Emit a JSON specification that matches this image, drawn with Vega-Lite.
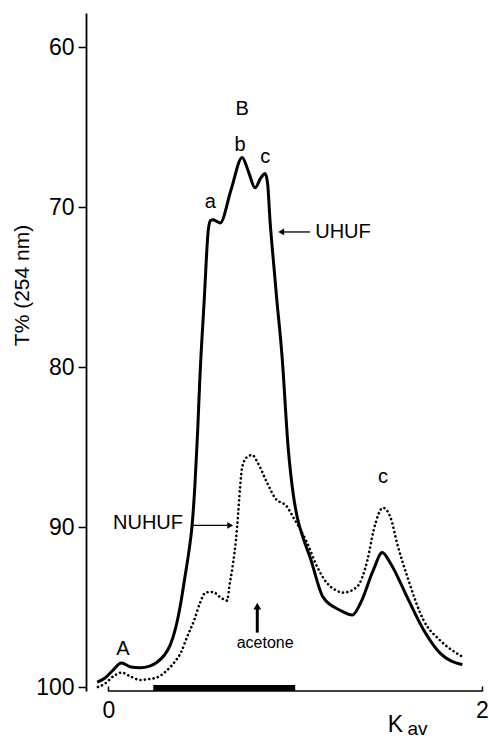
{
  "$schema": "https://vega.github.io/schema/vega-lite/v6.json",
  "width": 396,
  "height": 678,
  "autosize": {"type": "none"},
  "padding": {"left": 86, "top": 13, "right": 7, "bottom": 49},
  "background": "white",
  "config": {
    "view": {"stroke": null},
    "font": "Liberation Sans",
    "axis": {"domainColor": "black", "tickColor": "black", "labelColor": "black", "titleColor": "black", "grid": false}
  },
  "datasets": {
    "uhuf": [
      {"x": -0.06, "y": 99.69}, {"x": -0.02, "y": 99.45}, {"x": 0.02, "y": 99.0}, {"x": 0.07, "y": 98.5},
      {"x": 0.12, "y": 98.75}, {"x": 0.17, "y": 98.8}, {"x": 0.22, "y": 98.7}, {"x": 0.26, "y": 98.45},
      {"x": 0.30, "y": 98.0}, {"x": 0.33, "y": 97.4}, {"x": 0.36, "y": 96.3}, {"x": 0.385, "y": 94.9},
      {"x": 0.41, "y": 93.1}, {"x": 0.43, "y": 91.6}, {"x": 0.448, "y": 89.9}, {"x": 0.463, "y": 87.4},
      {"x": 0.477, "y": 84.2}, {"x": 0.49, "y": 80.6},
      {"x": 0.513, "y": 75.8}, {"x": 0.535, "y": 71.4}, {"x": 0.547, "y": 70.85}, {"x": 0.56, "y": 70.8},
      {"x": 0.58, "y": 70.9}, {"x": 0.598, "y": 71.0}, {"x": 0.657, "y": 68.9}, {"x": 0.716, "y": 66.9},
      {"x": 0.75, "y": 67.8}, {"x": 0.785, "y": 68.8}, {"x": 0.815, "y": 68.2}, {"x": 0.839, "y": 67.9},
      {"x": 0.852, "y": 68.5}, {"x": 0.866, "y": 71.0}, {"x": 0.882, "y": 73.2}, {"x": 0.90, "y": 75.6},
      {"x": 0.93, "y": 79.4}, {"x": 0.962, "y": 85.0}, {"x": 0.99, "y": 88.0}, {"x": 1.011, "y": 89.4}, {"x": 1.043, "y": 90.7},
      {"x": 1.08, "y": 91.9}, {"x": 1.15, "y": 94.4}, {"x": 1.24, "y": 95.2}, {"x": 1.306, "y": 95.5},
      {"x": 1.35, "y": 94.75}, {"x": 1.418, "y": 92.7}, {"x": 1.466, "y": 91.6}, {"x": 1.509, "y": 92.25},
      {"x": 1.60, "y": 94.4}, {"x": 1.686, "y": 96.4}, {"x": 1.777, "y": 97.9}, {"x": 1.895, "y": 98.6}
    ],
    "nuhuf": [
      {"x": -0.056, "y": 100.0}, {"x": -0.02, "y": 99.8}, {"x": 0.03, "y": 99.3}, {"x": 0.07, "y": 99.1},
      {"x": 0.12, "y": 99.35}, {"x": 0.17, "y": 99.56}, {"x": 0.22, "y": 99.5}, {"x": 0.26, "y": 99.4},
      {"x": 0.31, "y": 99.0}, {"x": 0.35, "y": 98.5}, {"x": 0.39, "y": 97.8}, {"x": 0.42, "y": 96.9},
      {"x": 0.46, "y": 95.8}, {"x": 0.49, "y": 94.75}, {"x": 0.52, "y": 94.1}, {"x": 0.56, "y": 94.06},
      {"x": 0.60, "y": 94.4}, {"x": 0.635, "y": 94.6}, {"x": 0.65, "y": 93.5}, {"x": 0.662, "y": 92.7},
      {"x": 0.689, "y": 90.0}, {"x": 0.705, "y": 87.5}, {"x": 0.716, "y": 86.25}, {"x": 0.745, "y": 85.6},
      {"x": 0.77, "y": 85.5}, {"x": 0.80, "y": 86.0}, {"x": 0.85, "y": 87.25}, {"x": 0.90, "y": 88.3},
      {"x": 0.93, "y": 88.5}, {"x": 0.946, "y": 88.6}, {"x": 0.99, "y": 89.4}, {"x": 1.064, "y": 91.0},
      {"x": 1.118, "y": 92.5}, {"x": 1.17, "y": 93.5}, {"x": 1.21, "y": 93.9}, {"x": 1.257, "y": 94.1},
      {"x": 1.33, "y": 93.75}, {"x": 1.386, "y": 92.1}, {"x": 1.42, "y": 90.2}, {"x": 1.47, "y": 88.8},
      {"x": 1.51, "y": 89.4}, {"x": 1.545, "y": 91.0}, {"x": 1.60, "y": 93.1}, {"x": 1.686, "y": 95.8},
      {"x": 1.777, "y": 97.1}, {"x": 1.895, "y": 98.1}
    ],
    "letters": [
      {"x": 0.078, "y": 97.6, "text": "A"},
      {"x": 0.545, "y": 69.7, "text": "a"},
      {"x": 0.705, "y": 66.1, "text": "b"},
      {"x": 0.716, "y": 63.9, "text": "B"},
      {"x": 0.839, "y": 66.9, "text": "c"},
      {"x": 1.47, "y": 86.9, "text": "c"}
    ],
    "nuhufLabel": [{"x": 0.212, "y": 89.75, "text": "NUHUF"}],
    "uhufLabel": [{"x": 1.107, "y": 71.56, "text": "UHUF"}],
    "acetoneLabel": [{"x": 0.839, "y": 97.25, "text": "acetone"}],
    "hArrows": [
      {"x": 0.448, "x2": 0.655, "y": 89.9},
      {"x": 0.925, "x2": 1.08, "y": 71.56}
    ],
    "rightHeads": [{"x": 0.652, "y": 89.9}],
    "leftHeads": [{"x": 0.925, "y": 71.56}],
    "vArrow": [{"x": 0.797, "y": 96.6, "y2": 95.1}],
    "upHeads": [{"x": 0.797, "y": 94.95}],
    "bar": [{"x": 0.24, "x2": 1.0, "y": 100.06}],
    "xline": [{"x": 0, "x2": 2, "y": 100.25}],
    "kLabel": [{"x": 1.536, "y": 102.4, "text": "K"}],
    "avLabel": [{"x": 1.655, "y": 102.65, "text": "av"}]
  },
  "encoding": {
    "x": {
      "field": "x", "type": "quantitative",
      "scale": {"domain": [-0.12, 2.0], "nice": false, "zero": false},
      "axis": {"values": [0, 1, 2], "format": "d", "domain": false, "tickSize": -5, "tickWidth": 1.5,
               "labelFontSize": 23, "labelPadding": 13, "labelFont": "Liberation Sans", "title": null,
               "labelFlush": false}
    },
    "y": {
      "field": "y", "type": "quantitative",
      "scale": {"domain": [57.875, 100.25], "nice": false, "zero": false, "reverse": true},
      "axis": {"values": [60, 70, 80, 90, 100], "tickSize": 8, "tickWidth": 1.5, "domainWidth": 1.8,
               "labelFontSize": 23, "labelPadding": 4, "labelFont": "Liberation Sans",
               "title": "T% (254 nm)", "titleFontSize": 21, "titleFontWeight": "normal",
               "titleFont": "Liberation Sans", "titleX": -64, "titleY": 272, "titleAngle": -90,
               "titleAlign": "center", "titleBaseline": "middle"}
    }
  },
  "layer": [
    {"data": {"name": "xline"}, "mark": {"type": "rule", "color": "black", "strokeWidth": 1.5}, "encoding": {"x2": {"field": "x2"}}},
    {"data": {"name": "bar"}, "mark": {"type": "rule", "color": "black", "strokeWidth": 6}, "encoding": {"x2": {"field": "x2"}}},
    {"data": {"name": "nuhuf"}, "mark": {"type": "line", "color": "black", "strokeWidth": 2.6, "strokeDash": [0.1, 4.3], "strokeCap": "round", "interpolate": "monotone"}},
    {"data": {"name": "uhuf"}, "mark": {"type": "line", "color": "black", "strokeWidth": 3, "interpolate": "monotone", "strokeJoin": "round"}},
    {"data": {"name": "hArrows"}, "mark": {"type": "rule", "color": "black", "strokeWidth": 1.3}, "encoding": {"x2": {"field": "x2"}}},
    {"data": {"name": "rightHeads"}, "mark": {"type": "point", "shape": "triangle-right", "filled": true, "color": "black", "size": 45, "opacity": 1}},
    {"data": {"name": "leftHeads"}, "mark": {"type": "point", "shape": "triangle-left", "filled": true, "color": "black", "size": 45, "opacity": 1}},
    {"data": {"name": "vArrow"}, "mark": {"type": "rule", "color": "black", "strokeWidth": 3}, "encoding": {"y2": {"field": "y2"}}},
    {"data": {"name": "upHeads"}, "mark": {"type": "point", "shape": "triangle-up", "filled": true, "color": "black", "size": 60, "opacity": 1}},
    {"data": {"name": "letters"}, "mark": {"type": "text", "fontSize": 20, "color": "black", "align": "center", "baseline": "middle"}, "encoding": {"text": {"field": "text"}}},
    {"data": {"name": "nuhufLabel"}, "mark": {"type": "text", "fontSize": 20, "color": "black", "align": "center", "baseline": "middle"}, "encoding": {"text": {"field": "text"}}},
    {"data": {"name": "uhufLabel"}, "mark": {"type": "text", "fontSize": 20, "color": "black", "align": "left", "baseline": "middle"}, "encoding": {"text": {"field": "text"}}},
    {"data": {"name": "acetoneLabel"}, "mark": {"type": "text", "fontSize": 16, "color": "black", "align": "center", "baseline": "middle"}, "encoding": {"text": {"field": "text"}}},
    {"data": {"name": "kLabel"}, "mark": {"type": "text", "fontSize": 23, "color": "black", "align": "center", "baseline": "middle"}, "encoding": {"text": {"field": "text"}}},
    {"data": {"name": "avLabel"}, "mark": {"type": "text", "fontSize": 19, "color": "black", "align": "center", "baseline": "middle"}, "encoding": {"text": {"field": "text"}}}
  ]
}
